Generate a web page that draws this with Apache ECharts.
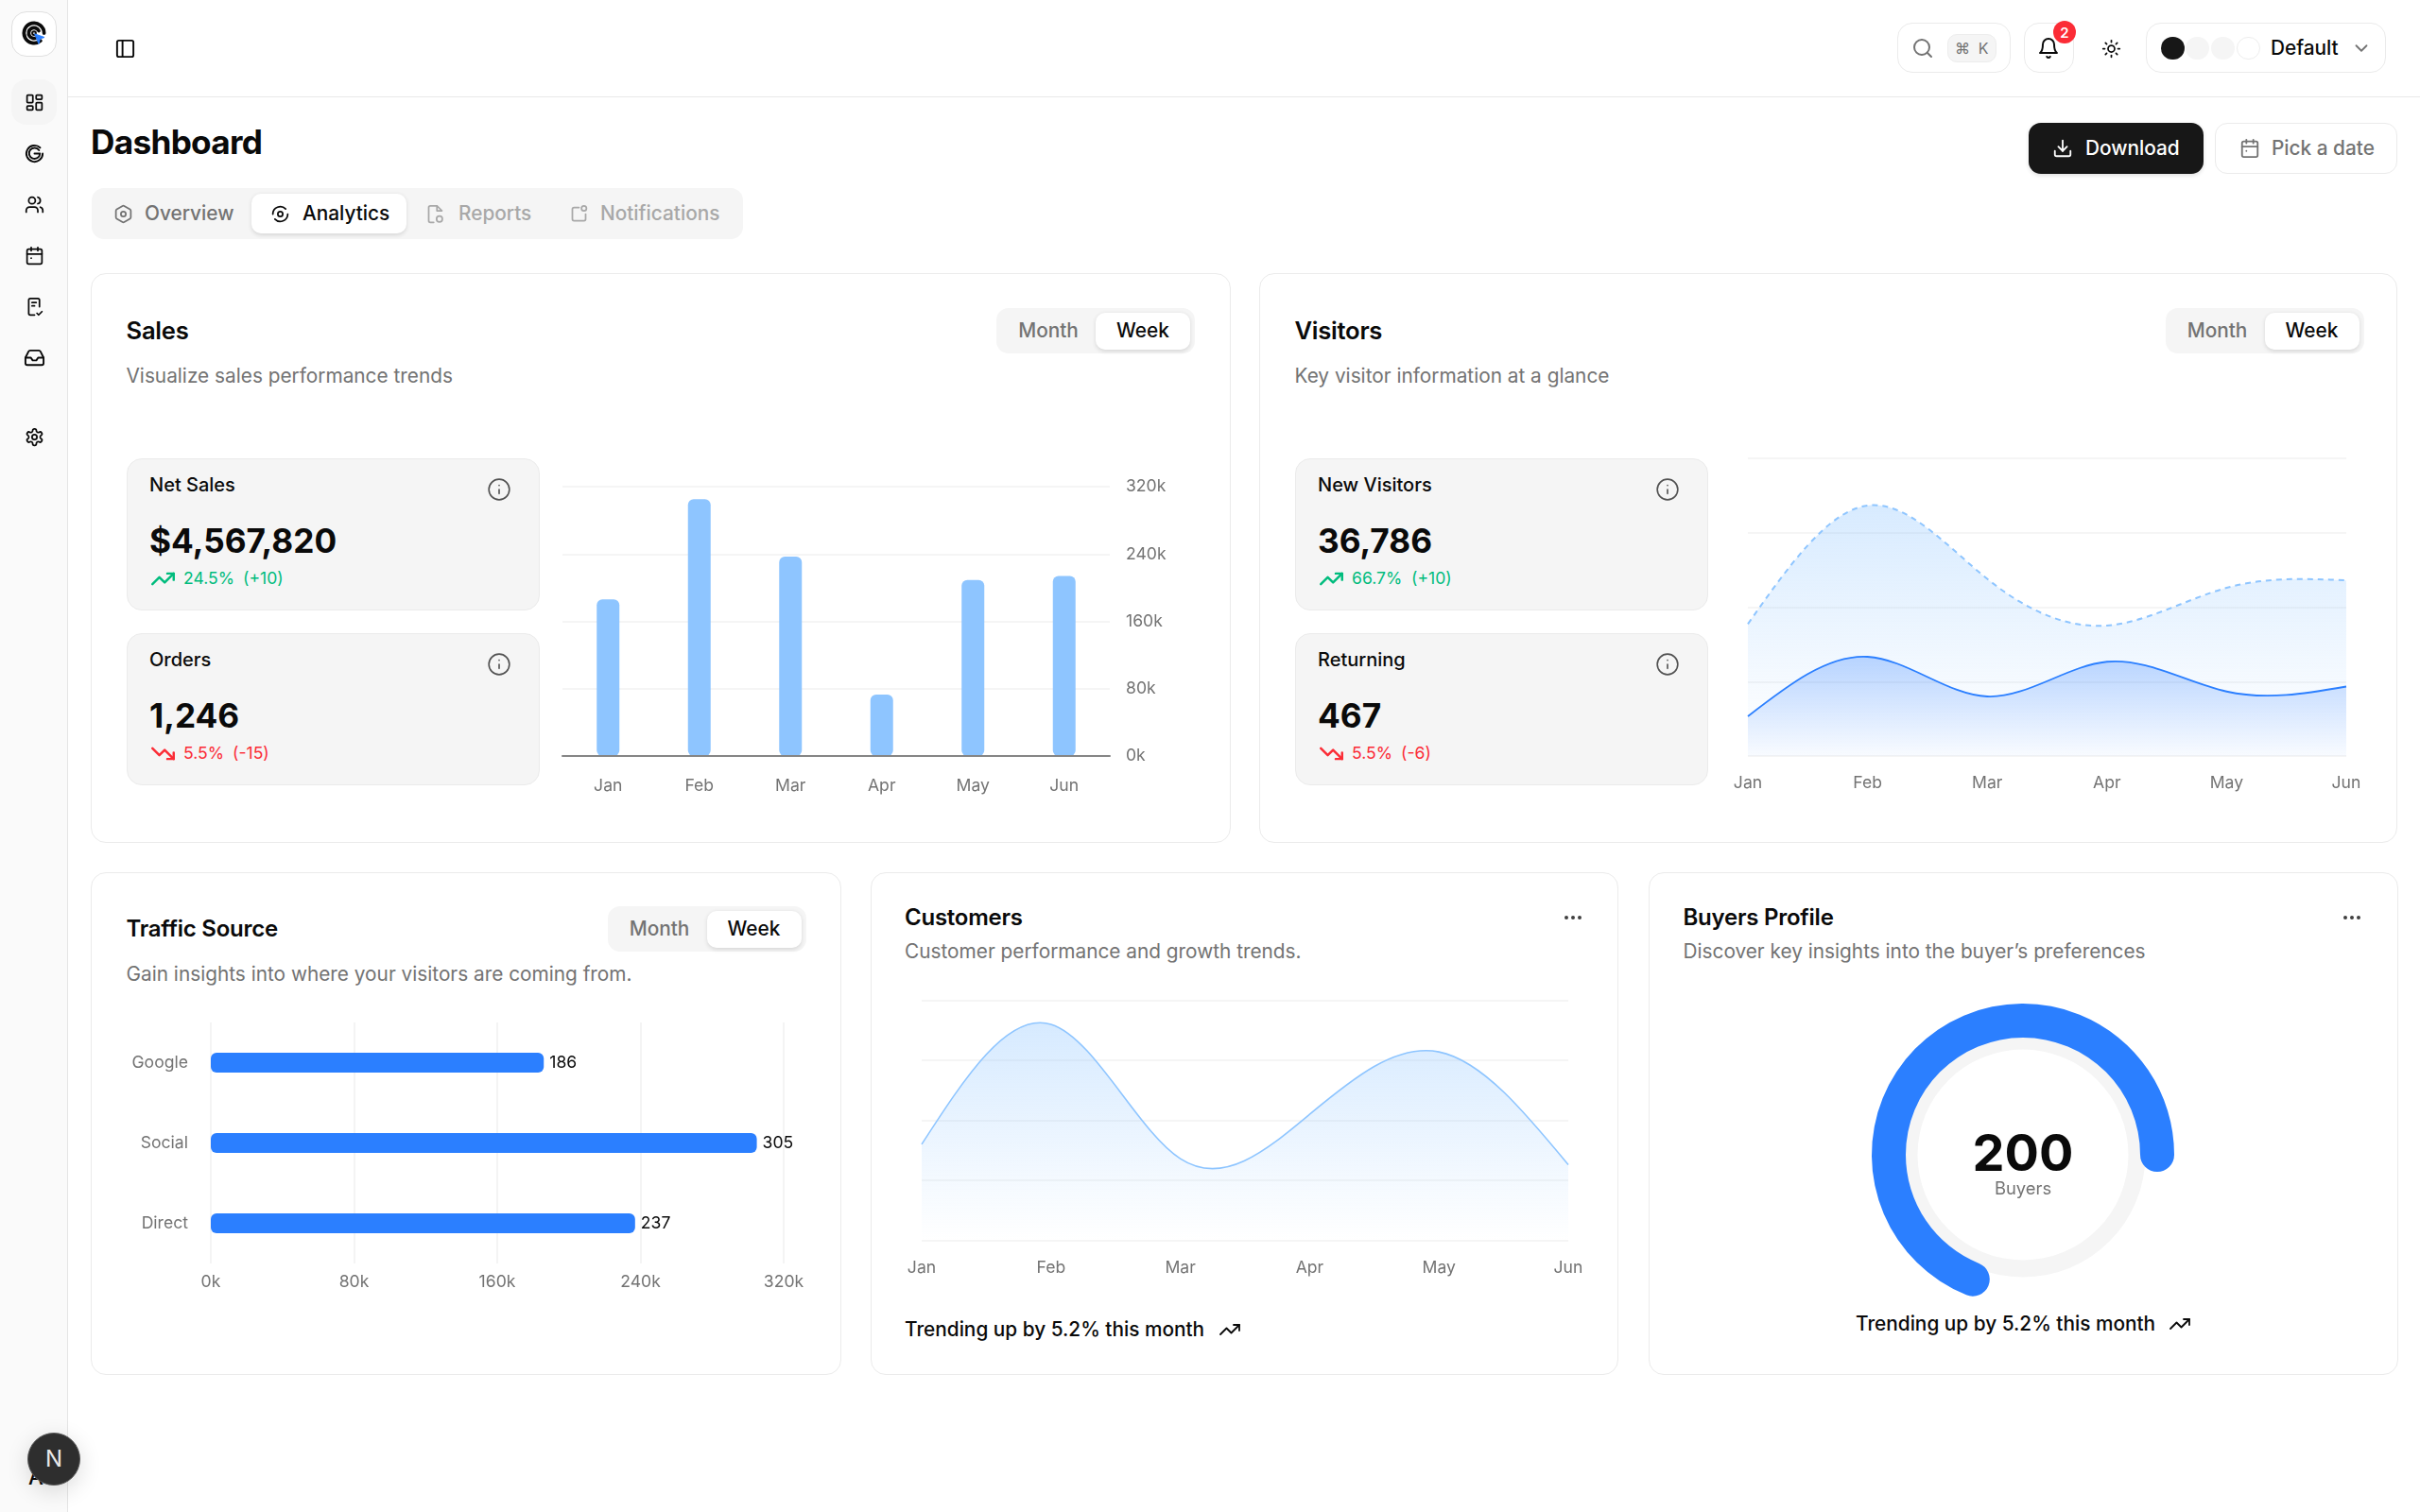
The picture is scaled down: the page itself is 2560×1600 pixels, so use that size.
<!DOCTYPE html>
<html>
<head>
<meta charset="utf-8">
<title>Dashboard</title>
<script src="https://cdn.jsdelivr.net/npm/echarts@6/dist/echarts.min.js"></script>
<style>
    html, body { margin: 0; padding: 0; background: #fff; }
    body { width: 2560px; height: 1600px; overflow: hidden; position: relative; font-family: Inter, "Noto Sans", sans-serif; color: #0a0a0a; }
    .box { position: absolute; box-sizing: border-box; }
    .txt { position: absolute; white-space: nowrap; line-height: 1; }
    svg { position: absolute; overflow: visible; }
    #main { position: absolute; left: 0; top: 0; width: 2560px; height: 1600px; }
</style>
</head>
<body>
<div id="main"></div>
<script type="text/javascript">
    // chart data
    var months = ['Jan', 'Feb', 'Mar', 'Apr', 'May', 'Jun'];
    var salesValues = [186, 305, 237, 73, 209, 214];
    var newVisitors = [186, 305, 237, 73, 209, 214];
    var returningVisitors = [80, 200, 120, 190, 130, 140];
    var customerValues = [160, 360, 136, 210, 314, 126];
    var trafficSources = ['Google', 'Social', 'Direct'];
    var trafficValues = [186, 305, 237];
    var buyersValue = 200;
    var buyersLabel = 'Buyers';
    var kTicks = [0, 80, 160, 240, 320];

    var GRAY = '#737373', BLUE_LIGHT = '#8ec5ff', BLUE = '#2b7fff', LINE = '#f2f2f2', BORDER = '#ebebeb';
    var BODY = 20.8;

    function box(x0, y0, x1, y1, bg, border, radius, shadow) {
        var d = document.createElement('div');
        d.className = 'box';
        d.style.cssText = 'left:' + x0 + 'px;top:' + y0 + 'px;width:' + (x1 - x0) + 'px;height:' + (y1 - y0) + 'px;background:' + (bg || 'transparent') +
            ';border:' + (border ? '1.6px solid ' + border : 'none') + ';border-radius:' + (radius || 0) + 'px;box-shadow:' + (shadow || 'none');
        document.body.insertBefore(d, document.getElementById('main'));
    }
    // x is the left edge, or the centre when align is 'c'; cy is the vertical middle of the text
    function txt(x, cy, s, size, weight, color, align, spacing) {
        var d = document.createElement('div');
        d.className = 'txt';
        d.textContent = s;
        d.style.cssText = 'left:' + x + 'px;top:' + cy + 'px;font-size:' + size + 'px;font-weight:' + (weight || 400) + ';color:' + (color || '#0a0a0a') +
            ';transform:translate(' + (align === 'c' ? '-50%' : '0') + ',-50%);letter-spacing:' + (spacing || 0) + 'em';
        document.body.insertBefore(d, document.getElementById('main'));
    }
    function icon(cx, cy, size, body, color, sw) {
        var ns = 'http://www.w3.org/2000/svg';
        var s = document.createElementNS(ns, 'svg');
        s.setAttribute('viewBox', '0 0 24 24');
        s.setAttribute('width', size);
        s.setAttribute('height', size);
        s.setAttribute('fill', 'none');
        s.setAttribute('stroke', color || '#0a0a0a');
        s.setAttribute('stroke-width', sw || 2);
        s.setAttribute('stroke-linecap', 'round');
        s.setAttribute('stroke-linejoin', 'round');
        s.style.left = (cx - size / 2) + 'px';
        s.style.top = (cy - size / 2) + 'px';
        s.innerHTML = body;
        document.body.insertBefore(s, document.getElementById('main'));
    }
    function p(d) { return '<path d="' + d + '"/>'; }
    function c(x, y, r) { return '<circle cx="' + x + '" cy="' + y + '" r="' + r + '"/>'; }
    function r(x, y, w, h, rx) { return '<rect x="' + x + '" y="' + y + '" width="' + w + '" height="' + h + '" rx="' + rx + '"/>'; }

    var ICONS = {
        panel: r(3, 3, 18, 18, 2) + p('M9 3v18'),
        dashboard: r(3, 3, 7, 9, 1) + r(14, 3, 7, 5, 1) + r(14, 12, 7, 9, 1) + r(3, 16, 7, 5, 1),
        g: p('M21 12a9 9 0 1 1-2.8-6.5') + p('M17 8.4A6 6 0 1 0 18 12h-6'),
        users: p('M16 21v-2a4 4 0 0 0-4-4H6a4 4 0 0 0-4 4v2') + c(9, 7, 4) + p('M22 21v-2a4 4 0 0 0-3-3.87') + p('M16 3.13a4 4 0 0 1 0 7.75'),
        calendar: p('M8 2v4') + p('M16 2v4') + r(3, 4, 18, 18, 2) + p('M3 10h18') + p('M8 15h.01'),
        report: p('M18 12V4a2 2 0 0 0-2-2H7a2 2 0 0 0-2 2v16a2 2 0 0 0 2 2h5') + p('M9 7h5') + p('M9 11h3') + p('M15 20l2 2 4-4'),
        inbox: p('M22 12h-6l-2 3h-4l-2-3H2') + p('M5.45 5.11 2 12v6a2 2 0 0 0 2 2h16a2 2 0 0 0 2-2v-6l-3.45-6.89A2 2 0 0 0 16.76 4H7.24a2 2 0 0 0-1.79 1.11z'),
        gear: p('M12.22 2h-.44a2 2 0 0 0-2 2v.18a2 2 0 0 1-1 1.73l-.43.25a2 2 0 0 1-2 0l-.15-.08a2 2 0 0 0-2.73.73l-.22.38a2 2 0 0 0 .73 2.73l.15.1a2 2 0 0 1 1 1.72v.51a2 2 0 0 1-1 1.74l-.15.09a2 2 0 0 0-.73 2.73l.22.38a2 2 0 0 0 2.73.73l.15-.08a2 2 0 0 1 2 0l.43.25a2 2 0 0 1 1 1.73V20a2 2 0 0 0 2 2h.44a2 2 0 0 0 2-2v-.18a2 2 0 0 1 1-1.73l.43-.25a2 2 0 0 1 2 0l.15.08a2 2 0 0 0 2.73-.73l.22-.39a2 2 0 0 0-.73-2.73l-.15-.08a2 2 0 0 1-1-1.74v-.5a2 2 0 0 1 1-1.74l.15-.09a2 2 0 0 0 .73-2.73l-.22-.38a2 2 0 0 0-2.73-.73l-.15.08a2 2 0 0 1-2 0l-.43-.25a2 2 0 0 1-1-1.73V4a2 2 0 0 0-2-2z') + c(12, 12, 3),
        hexagon: p('M21 16V8a2 2 0 0 0-1-1.73l-7-4a2 2 0 0 0-2 0l-7 4A2 2 0 0 0 3 8v8a2 2 0 0 0 1 1.73l7 4a2 2 0 0 0 2 0l7-4A2 2 0 0 0 21 16z') + c(12, 12, 3),
        analytics: c(12, 12, 3) + p('M3 12a9 9 0 0 1 15.5-6.2') + p('M21 12a9 9 0 0 1-15.5 6.2'),
        fileClock: p('M14 2H6a2 2 0 0 0-2 2v16a2 2 0 0 0 2 2h4') + p('M14 2l6 6h-6z') + c(17, 18, 3.5),
        notify: p('M12 4H6a2 2 0 0 0-2 2v12a2 2 0 0 0 2 2h12a2 2 0 0 0 2-2v-6') + c(18, 5, 3),
        search: c(11, 11, 8) + p('M21 21l-4.3-4.3'),
        bell: p('M6 8a6 6 0 0 1 12 0c0 7 3 9 3 9H3s3-2 3-9') + p('M10.3 21a1.94 1.94 0 0 0 3.4 0'),
        sun: c(12, 12, 4) + p('M12 2v2') + p('M12 20v2') + p('M4.93 4.93l1.41 1.41') + p('M17.66 17.66l1.41 1.41') + p('M2 12h2') + p('M20 12h2') + p('M6.34 17.66l-1.41 1.41') + p('M19.07 4.93l-1.41 1.41'),
        chevron: p('M6 9l6 6 6-6'),
        download: p('M21 15v4a2 2 0 0 1-2 2H5a2 2 0 0 1-2-2v-4') + p('M7 10l5 5 5-5') + p('M12 15V3'),
        info: c(12, 12, 10) + p('M12 16v-4') + p('M12 8h.01'),
        up: p('M22 7l-8.5 8.5-5-5L2 17') + p('M16 7h6v6'),
        down: p('M22 17l-8.5-8.5-5 5L2 7') + p('M16 17h6v-6'),
        dots: c(5, 12, 1) + c(12, 12, 1) + c(19, 12, 1),
        logo: p('M20.5 12a8.5 8.5 0 1 0-3 6.5') + p('M16 10a4.5 4.5 0 1 0-1.2 5.5') + c(12, 12, 0.8)
    };

    // sidebar and top bar
    box(0, 0, 72, 1600, '#fafafa', null);
    box(71, 0, 72, 1600, '#e5e5e5');
    box(72, 101.5, 2560, 103, '#e8e8e8');
    box(12, 12, 60, 60, '#fff', '#e0e0e0', 16);
    icon(36, 35, 30, ICONS.logo, '#0a0a0a', 3);
    icon(42, 41, 12, '<path d="M2 2l20 7-9 3-3 10z" fill="#2b7fff" stroke="#2b7fff"/>', BLUE);
    box(12, 84, 60, 132, '#f5f5f5', null, 16);
    icon(36, 108, 21, ICONS.dashboard);
    icon(36, 162, 23, ICONS.g);
    icon(36, 216, 21, ICONS.users);
    icon(36, 270, 21, ICONS.calendar);
    icon(36, 324, 21, ICONS.report);
    icon(36, 378, 23, ICONS.inbox);
    icon(36, 462, 21, ICONS.gear);
    icon(132, 51, 23, ICONS.panel);

    box(2007, 24, 2127, 77, '#fff', BORDER, 16);
    icon(2034, 51, 24, ICONS.search, GRAY);
    box(2060, 36, 2112, 66, '#f5f5f5', '#ededed', 10);
    txt(2076, 51, '⌘', 16, 400, GRAY, 'c');
    txt(2098, 51, 'K', 16, 400, GRAY, 'c');
    box(2141, 24, 2194, 77, '#fff', BORDER, 16);
    icon(2167, 51, 24, ICONS.bell);
    box(2172, 22, 2196, 46, '#fb2c36', null, 12);
    txt(2184, 34, '2', 15, 600, '#fff', 'c');
    icon(2233, 51, 21, ICONS.sun);
    box(2270, 24, 2524, 77, '#fff', BORDER, 16);
    box(2285.5, 39, 2310.5, 63, '#171717', null, 12);
    box(2312, 39, 2337, 63, '#f5f5f5', null, 12);
    box(2339, 39, 2364, 63, '#f5f5f5', null, 12);
    box(2366, 39, 2391, 63, '#fff', '#ededed', 12);
    txt(2402, 51, 'Default', BODY, 500);
    icon(2498, 51, 22, ICONS.chevron, GRAY);

    // page title, tabs and buttons
    txt(96, 151, 'Dashboard', 35.2, 700, '#0a0a0a', 'l', -0.02);
    box(97, 199, 786, 253, '#f5f5f5', null, 13);
    box(266, 205, 430, 247, '#fff', null, 10, '0 1.6px 4px rgba(0,0,0,.12)');
    icon(130, 226, 21, ICONS.hexagon, GRAY);
    txt(153, 226, 'Overview', BODY, 500, GRAY);
    icon(296, 226, 21, ICONS.analytics);
    txt(320, 226, 'Analytics', BODY, 500);
    icon(460, 226, 21, ICONS.fileClock, '#a8a8a8');
    txt(485, 226, 'Reports', BODY, 500, '#a8a8a8');
    icon(612, 226, 21, ICONS.notify, '#a8a8a8');
    txt(635, 226, 'Notifications', BODY, 500, '#a8a8a8');

    box(2146, 130, 2331, 184, '#171717', null, 13, '0 1.6px 4px rgba(0,0,0,.12)');
    icon(2182, 157, 22, ICONS.download, '#fff');
    txt(2206, 157, 'Download', BODY, 500, '#fff');
    box(2343, 130, 2536, 184, '#fff', BORDER, 13);
    icon(2380, 157, 22, ICONS.calendar, GRAY);
    txt(2403, 157, 'Pick a date', BODY, 500, GRAY);

    // cards
    function toggle(x, y) {
        box(x, y, x + 210, y + 48, '#f5f5f5', null, 13);
        box(x + 105, y + 5, x + 205, y + 44, '#fff', null, 10, '0 1.6px 4px rgba(0,0,0,.12)');
        txt(x + 55, y + 24, 'Month', BODY, 500, GRAY, 'c');
        txt(x + 155, y + 24, 'Week', BODY, 500, '#0a0a0a', 'c');
    }
    function stat(x, y, label, value, dir, pct, delta, deltaOffset) {
        var col = dir === 'up' ? '#00bc7d' : '#fb2c36';
        box(x, y, x + 437, y + 161, '#f5f5f5', '#ebebeb', 16);
        txt(x + 24, y + 28, label, 20, 500);
        icon(x + 394, y + 33, 26, ICONS.info, '#525252', 1.5);
        txt(x + 24, y + 88, value, 35.2, 700);
        icon(x + 38, y + 127, 27, ICONS[dir], col, 2.2);
        txt(x + 60, y + 127, pct, 17.6, 400, col);
        txt(x + deltaOffset, y + 127, delta, 17.6, 400, col);
    }
    function trend(x, cy, iconX) {
        txt(x, cy, 'Trending up by 5.2% this month', BODY, 500);
        icon(iconX, cy, 24, ICONS.up, '#0a0a0a', 1.8);
    }

    box(96, 289, 1302, 892, '#fff', BORDER, 16);
    txt(133.5, 349.5, 'Sales', 25.6, 600, '#0a0a0a', 'l', -0.01);
    txt(133.5, 397.5, 'Visualize sales performance trends', BODY, 400, GRAY);
    toggle(1054, 326);
    stat(134, 485, 'Net Sales', '$4,567,820', 'up', '24.5%', '(+10)', 123);
    stat(134, 670, 'Orders', '1,246', 'down', '5.5%', '(-15)', 112);

    box(1332, 289, 2536, 892, '#fff', BORDER, 16);
    txt(1369.5, 349.5, 'Visitors', 25.6, 600, '#0a0a0a', 'l', -0.01);
    txt(1369.5, 397.5, 'Key visitor information at a glance', BODY, 400, GRAY);
    toggle(2290.5, 326);
    stat(1370, 485, 'New Visitors', '36,786', 'up', '66.7%', '(+10)', 123);
    stat(1370, 670, 'Returning', '467', 'down', '5.5%', '(-6)', 112);

    box(96, 922.5, 890, 1455, '#fff', BORDER, 16);
    txt(133.5, 983, 'Traffic Source', 24, 600, '#0a0a0a', 'l', -0.01);
    txt(133.5, 1031, 'Gain insights into where your visitors are coming from.', BODY, 400, GRAY);
    toggle(642.5, 959);

    box(920.5, 922.5, 1712, 1455, '#fff', BORDER, 16);
    txt(957, 971, 'Customers', 24, 600, '#0a0a0a', 'l', -0.01);
    txt(957, 1007, 'Customer performance and growth trends.', BODY, 400, GRAY);
    icon(1664, 971, 24, ICONS.dots, '#404040');
    trend(957, 1406.5, 1301);

    box(1743.5, 922.5, 2536.5, 1455, '#fff', BORDER, 16);
    txt(1780.5, 971, 'Buyers Profile', 24, 600, '#0a0a0a', 'l', -0.01);
    txt(1780.5, 1007, 'Discover key insights into the buyer’s preferences', BODY, 400, GRAY);
    icon(2488, 971, 24, ICONS.dots, '#404040');
    trend(1963, 1400.5, 2305.5);

    // framework badge in the corner
    txt(30, 1563, 'A', 22.4, 500);
    box(29, 1516, 85, 1572, '#2e2e2e', '#5a5a5a', 28, '0 6px 24px rgba(0,0,0,.14)');
    txt(57, 1544, 'N', 24, 400, '#e8e8e8', 'c');

    // natural cubic spline through points, returned as svg path commands
    function splineControls(x) {
        var i, m, n = x.length - 1, a = [], b = [], s = [];
        a[0] = 0; b[0] = 2; s[0] = x[0] + 2 * x[1];
        for (i = 1; i < n - 1; ++i) { a[i] = 1; b[i] = 4; s[i] = 4 * x[i] + 2 * x[i + 1]; }
        a[n - 1] = 2; b[n - 1] = 7; s[n - 1] = 8 * x[n - 1] + x[n];
        for (i = 1; i < n; ++i) { m = a[i] / b[i - 1]; b[i] -= m; s[i] -= m * s[i - 1]; }
        a[n - 1] = s[n - 1] / b[n - 1];
        for (i = n - 2; i >= 0; --i) a[i] = (s[i] - a[i + 1]) / b[i];
        b[n - 1] = (x[n] + a[n - 1]) / 2;
        for (i = 0; i < n - 1; ++i) b[i] = 2 * x[i + 1] - a[i + 1];
        return [a, b];
    }
    function splinePath(pts, cmd) {
        var xs = splineControls(pts.map(function (q) { return q[0]; }));
        var ys = splineControls(pts.map(function (q) { return q[1]; }));
        var d = cmd + pts[0][0] + ' ' + pts[0][1];
        for (var i = 0; i < pts.length - 1; i++) {
            d += 'C' + xs[0][i] + ' ' + ys[0][i] + ' ' + xs[1][i] + ' ' + ys[1][i] + ' ' + pts[i + 1][0] + ' ' + pts[i + 1][1];
        }
        return d;
    }
    function gradient(color, a0, a1) {
        var rgb = parseInt(color.slice(1, 3), 16) + ',' + parseInt(color.slice(3, 5), 16) + ',' + parseInt(color.slice(5, 7), 16);
        return new echarts.graphic.LinearGradient(0, 0, 0, 1, [
            {offset: 0, color: 'rgba(' + rgb + ',' + a0 + ')'},
            {offset: 1, color: 'rgba(' + rgb + ',' + a1 + ')'}
        ]);
    }
    // area between two value lists (lower may be null: the axis), edge follows the upper list
    function areaSeries(gridIndex, upper, lower, stroke, lineWidth, lineDash, fill) {
        return {
            type: 'custom', xAxisIndex: gridIndex, yAxisIndex: gridIndex, clip: false,
            data: upper.map(function (v, i) { return [i, v]; }),
            renderItem: function (params, api) {
                if (params.dataIndex !== 0) return null;
                var top = upper.map(function (v, i) { return api.coord([i, v]); });
                var bottom = upper.map(function (v, i) { return api.coord([i, lower ? lower[i] : 0]); }).reverse();
                var edge = splinePath(top, 'M');
                var under = lower ? splinePath(bottom, 'L') : 'L' + bottom[0].join(' ') + 'L' + bottom[5].join(' ');
                return {
                    type: 'group',
                    children: [
                        {type: 'path', shape: {pathData: edge + under + 'Z'}, style: {fill: fill, stroke: null}},
                        {type: 'path', shape: {pathData: edge}, style: {fill: null, stroke: stroke, lineWidth: lineWidth, lineDash: lineDash}}
                    ]
                };
            }
        };
    }

    var visitorsStack = newVisitors.map(function (v, i) { return v + returningVisitors[i]; });
    var axisText = {color: GRAY, fontSize: 17.6, fontFamily: 'Inter'};
    var grid = function (x0, y0, x1, y1) { return {left: x0, top: y0, width: x1 - x0, height: y1 - y0, containLabel: false}; };
    var hLines = {show: true, lineStyle: {color: LINE, width: 1.6}};

    function lineX(i, margin) {
        return {
            gridIndex: i, type: 'category', data: months, boundaryGap: false,
            axisLine: {show: false}, axisTick: {show: false},
            axisLabel: Object.assign({margin: margin, interval: 0, hideOverlap: false, showMinLabel: true, showMaxLabel: true}, axisText)
        };
    }
    function lineY(i, max, step) {
        return {gridIndex: i, type: 'value', min: 0, max: max, interval: step, axisLine: {show: false}, axisTick: {show: false}, axisLabel: {show: false}, splitLine: hLines};
    }

    var myChart = echarts.init(document.getElementById('main'), null, {width: 2560, height: 1600});
    myChart.setOption({
        animation: false,
        grid: [grid(595, 515, 1174, 800), grid(1849, 485, 2482, 800), grid(223, 1082, 829, 1337), grid(975, 1058.5, 1659, 1312.5)],
        xAxis: [
            {
                gridIndex: 0, type: 'category', data: months, z: 5,
                axisLine: {lineStyle: {color: '#858585', width: 2}}, axisTick: {show: false},
                axisLabel: Object.assign({margin: 23, interval: 0}, axisText)
            },
            lineX(1, 20),
            {
                gridIndex: 2, type: 'value', min: kTicks[0], max: kTicks[4], interval: kTicks[1], position: 'bottom',
                axisLine: {show: false}, axisTick: {show: false}, splitLine: hLines,
                axisLabel: Object.assign({margin: 11, formatter: '{value}k'}, axisText)
            },
            lineX(3, 20)
        ],
        yAxis: [
            {
                gridIndex: 0, type: 'value', position: 'right', min: kTicks[0], max: kTicks[4], interval: kTicks[1],
                axisLine: {show: false}, axisTick: {show: false}, splitLine: hLines,
                axisLabel: Object.assign({margin: 17, formatter: '{value}k', padding: [2, 0, 0, 0]}, axisText)
            },
            lineY(1, 600, 150),
            {
                gridIndex: 2, type: 'category', data: trafficSources, inverse: true,
                axisLine: {show: false}, axisTick: {show: false},
                axisLabel: Object.assign({margin: 24, interval: 0, padding: [2, 0, 0, 0]}, axisText)
            },
            lineY(3, 400, 100)
        ],
        series: [
            {
                type: 'bar', xAxisIndex: 0, yAxisIndex: 0, data: salesValues, barWidth: 24,
                itemStyle: {color: BLUE_LIGHT, borderRadius: 6}
            },
            areaSeries(1, visitorsStack, returningVisitors, BLUE_LIGHT, 2, [6, 5], gradient(BLUE_LIGHT, 0.35, 0.04)),
            areaSeries(1, returningVisitors, null, BLUE, 1.8, null, gradient(BLUE, 0.34, 0.03)),
            {
                type: 'bar', xAxisIndex: 2, yAxisIndex: 2, data: trafficValues, barWidth: 21,
                itemStyle: {color: BLUE, borderRadius: 6},
                label: {show: true, position: 'right', distance: 6, color: '#0a0a0a', fontSize: 17.6, fontFamily: 'Inter'}
            },
            areaSeries(3, customerValues, null, BLUE_LIGHT, 1.6, null, gradient(BLUE_LIGHT, 0.36, 0)),
            {
                type: 'gauge', center: [2140, 1222], radius: 129.5, startAngle: 90, endAngle: -270, min: 0, max: 100,
                axisLine: {lineStyle: {width: 18, color: [[1, '#f5f5f5']]}},
                progress: {show: false}, pointer: {show: false}, axisTick: {show: false}, splitLine: {show: false}, axisLabel: {show: false},
                title: {show: false}, detail: {show: false}, data: [{value: 0}]
            },
            {
                type: 'gauge', center: [2140, 1222], radius: 160, startAngle: 248, endAngle: 0, min: 0, max: buyersValue,
                axisLine: {show: false},
                progress: {show: true, width: 36, roundCap: true, itemStyle: {color: BLUE}},
                pointer: {show: false}, axisTick: {show: false}, splitLine: {show: false}, axisLabel: {show: false},
                title: {offsetCenter: [0, 36], fontSize: 18.4, color: GRAY, fontFamily: 'Inter'},
                detail: {offsetCenter: [0, 1], formatter: '{value}', fontSize: 54, fontWeight: 700, color: '#0a0a0a', fontFamily: 'Inter'},
                data: [{value: buyersValue, name: buyersLabel}]
            }
        ]
    });
</script>
</body>
</html>
